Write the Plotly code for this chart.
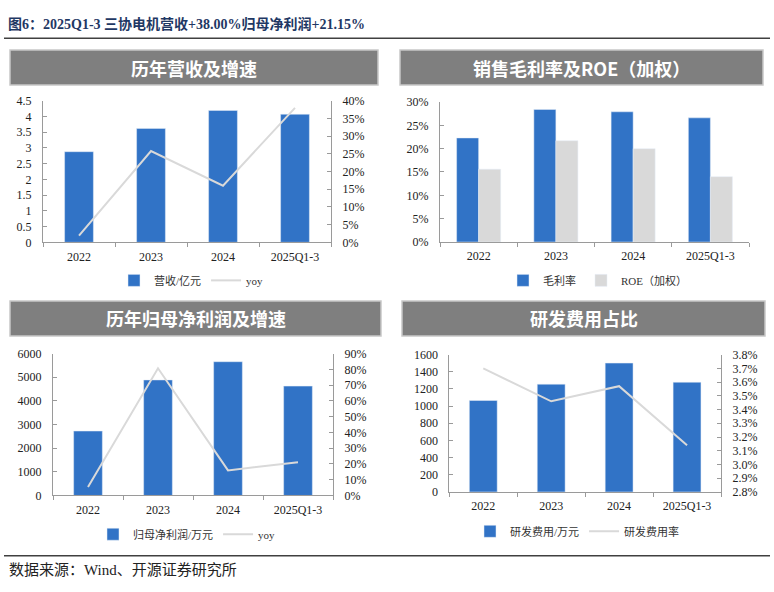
import plotly.graph_objects as go

W, H = 774, 592

categories = ["2022", "2023", "2024", "2025Q1-3"]

revenue = [2.88, 3.62, 4.19, 4.07]          # 营收/亿元
revenue_yoy = [1.9, 25.8, 16.0, 38.0]       # %

gross_margin = [22.3, 28.4, 27.9, 26.6]     # 毛利率 %
roe = [15.6, 21.7, 20.0, 14.0]              # ROE（加权）%

net_profit = [2725, 4885, 5657, 4625]       # 归母净利润/万元
net_profit_yoy = [5.3, 80.7, 15.9, 21.15]   # %

rd_expense = [1065, 1255, 1501, 1278]       # 研发费用/万元
rd_ratio = [3.70, 3.46, 3.57, 3.14]         # 研发费用率 %

BLUE = "#3173C6"
LGRAY = "#D9D9D9"
AXC = "#9A9A9A"
TXT = "#222222"
SERIF = "Liberation Serif, Noto Sans CJK SC"
LEGF = "Liberation Serif, Noto Sans CJK SC"


def px(x):
    return x / W


def py(y):
    return 1 - y / H


fig = go.Figure()

# ---------- Panel 1 ----------
fig.add_trace(go.Bar(x=categories, y=revenue, name="营收/亿元", marker_color=BLUE,
                     width=0.4, offset=-0.2, xaxis="x", yaxis="y", legend="legend"))
fig.add_trace(go.Scatter(x=categories, y=revenue_yoy, name="yoy", mode="lines",
                         line=dict(color=LGRAY, width=2), xaxis="x", yaxis="y2", legend="legend"))

# ---------- Panel 2 ----------
fig.add_trace(go.Bar(x=categories, y=gross_margin, name="毛利率", marker_color=BLUE,
                     width=0.285, offset=-0.285, xaxis="x2", yaxis="y3", legend="legend2"))
fig.add_trace(go.Bar(x=categories, y=roe, name="ROE（加权）", marker_color=LGRAY,
                     width=0.285, offset=0, xaxis="x2", yaxis="y3", legend="legend2"))

# ---------- Panel 3 ----------
fig.add_trace(go.Bar(x=categories, y=net_profit, name="归母净利润/万元", marker_color=BLUE,
                     width=0.41, offset=-0.205, xaxis="x3", yaxis="y4", legend="legend3"))
fig.add_trace(go.Scatter(x=categories, y=net_profit_yoy, name="yoy", mode="lines",
                         line=dict(color=LGRAY, width=2), xaxis="x3", yaxis="y5", legend="legend3"))

# ---------- Panel 4 ----------
fig.add_trace(go.Bar(x=categories, y=rd_expense, name="研发费用/万元", marker_color=BLUE,
                     width=0.41, offset=-0.205, xaxis="x4", yaxis="y6", legend="legend4"))
fig.add_trace(go.Scatter(x=categories, y=rd_ratio, name="研发费用率", mode="lines",
                         line=dict(color=LGRAY, width=2), xaxis="x4", yaxis="y7", legend="legend4"))

tickfont = dict(family=SERIF, size=12, color=TXT)


def xax(domain, anchor):
    return dict(domain=domain, anchor=anchor, type="category", showline=True, linecolor=AXC,
                linewidth=1, ticks="outside", tickson="boundaries", ticklen=4, tickcolor=AXC,
                tickfont=tickfont, showgrid=False, zeroline=False, fixedrange=True,
                ticklabelstandoff=3)


def yax(domain, anchor, rng, dtick, side="left", overlaying=None, suffix="", fmt=None):
    d = dict(domain=domain, anchor=anchor, range=rng, dtick=dtick, tick0=rng[0], side=side,
             showline=True, linecolor=AXC, linewidth=1, ticks="inside", ticklen=4,
             tickcolor=AXC, tickfont=tickfont, showgrid=False, zeroline=False,
             ticksuffix=suffix, fixedrange=True, ticklabelstandoff=8)
    if overlaying:
        d["overlaying"] = overlaying
    if fmt:
        d["tickformat"] = fmt
    return d


d1x = [px(43), px(331)]
d1y = [py(241), py(96)]
d2x = [px(440), px(749)]
d2y = [py(240.7), py(97.3)]
d3x = [px(53), px(333)]
d3y = [py(500.3), py(355)]
d4x = [px(449.3), px(721)]
d4y = [py(496.7), py(356)]

legfont = dict(family=LEGF, size=11, color="#333333")


def leg(x, y):
    return dict(x=x, y=y, xanchor="left", yanchor="middle", orientation="h",
                font=legfont, bgcolor="rgba(0,0,0,0)", itemwidth=30, tracegroupgap=0)


fig.update_layout(
    width=W, height=H, margin=dict(l=0, r=0, t=0, b=0),
    paper_bgcolor="white", plot_bgcolor="white",
    showlegend=True, barmode="overlay",
    xaxis=xax(d1x, "y"),
    yaxis=yax(d1y, "x", [0, 4.5], 0.5),
    yaxis2=yax(d1y, "x", [0, 40], 5, side="right", overlaying="y", suffix="%"),
    xaxis2=xax(d2x, "y3"),
    yaxis3=yax(d2y, "x2", [0, 30], 5, suffix="%"),
    xaxis3=xax(d3x, "y4"),
    yaxis4=yax(d3y, "x3", [0, 6000], 1000),
    yaxis5=yax(d3y, "x3", [0, 90], 10, side="right", overlaying="y4", suffix="%"),
    xaxis4=xax(d4x, "y6"),
    yaxis6=yax(d4y, "x4", [0, 1600], 200),
    yaxis7=yax(d4y, "x4", [2.8, 3.8], 0.1, side="right", overlaying="y6", suffix="%", fmt=".1f"),
    legend=leg(px(114), py(280)),
    legend2=leg(px(503), py(280)),
    legend3=leg(px(93), py(540)),
    legend4=leg(px(470), py(537)),
)

shapes = []
annotations = []

# title + rule
annotations.append(dict(x=px(6), y=py(17), xref="paper", yref="paper", xanchor="left", yanchor="middle",
                        text="<b>图6：2025Q1-3 三协电机营收+38.00%归母净利润+21.15%</b>", showarrow=False,
                        font=dict(family="Liberation Serif, Noto Sans CJK SC", size=14, color="#1F3864")))
shapes.append(dict(type="line", xref="paper", yref="paper", x0=px(4), x1=px(770), y0=py(32), y1=py(32),
                   line=dict(color="#404040", width=1.5)))

# header boxes
headers = [
    (10, 378, 44, 80, "历年营收及增速"),
    (400, 763, 44, 80, "销售毛利率及ROE（加权）"),
    (10, 381, 301, 337, "历年归母净利润及增速"),
    (402, 765, 301, 337, "研发费用占比"),
]
for x0, x1, y0, y1, t in headers:
    shapes.append(dict(type="rect", xref="paper", yref="paper", x0=px(x0), x1=px(x1), y0=py(y1), y1=py(y0),
                       fillcolor="#7F7F7F", line=dict(color="#C8C8C8", width=1.5)))
    annotations.append(dict(x=px((x0 + x1) / 2), y=py((y0 + y1) / 2), xref="paper", yref="paper",
                            text="<b>" + t + "</b>", showarrow=False, xanchor="center", yanchor="middle",
                            font=dict(family="Noto Sans CJK SC", size=18, color="white")))

# footer
shapes.append(dict(type="line", xref="paper", yref="paper", x0=px(4), x1=px(770), y0=py(562), y1=py(562),
                   line=dict(color="#404040", width=1.5)))
annotations.append(dict(x=px(7), y=py(577), xref="paper", yref="paper", xanchor="left", yanchor="middle",
                        text="数据来源：Wind、开源证券研究所", showarrow=False,
                        font=dict(family="Liberation Serif, Noto Sans CJK SC", size=15, color="#222222")))

fig.update_layout(shapes=shapes, annotations=annotations)

fig.write_html("out.html")
